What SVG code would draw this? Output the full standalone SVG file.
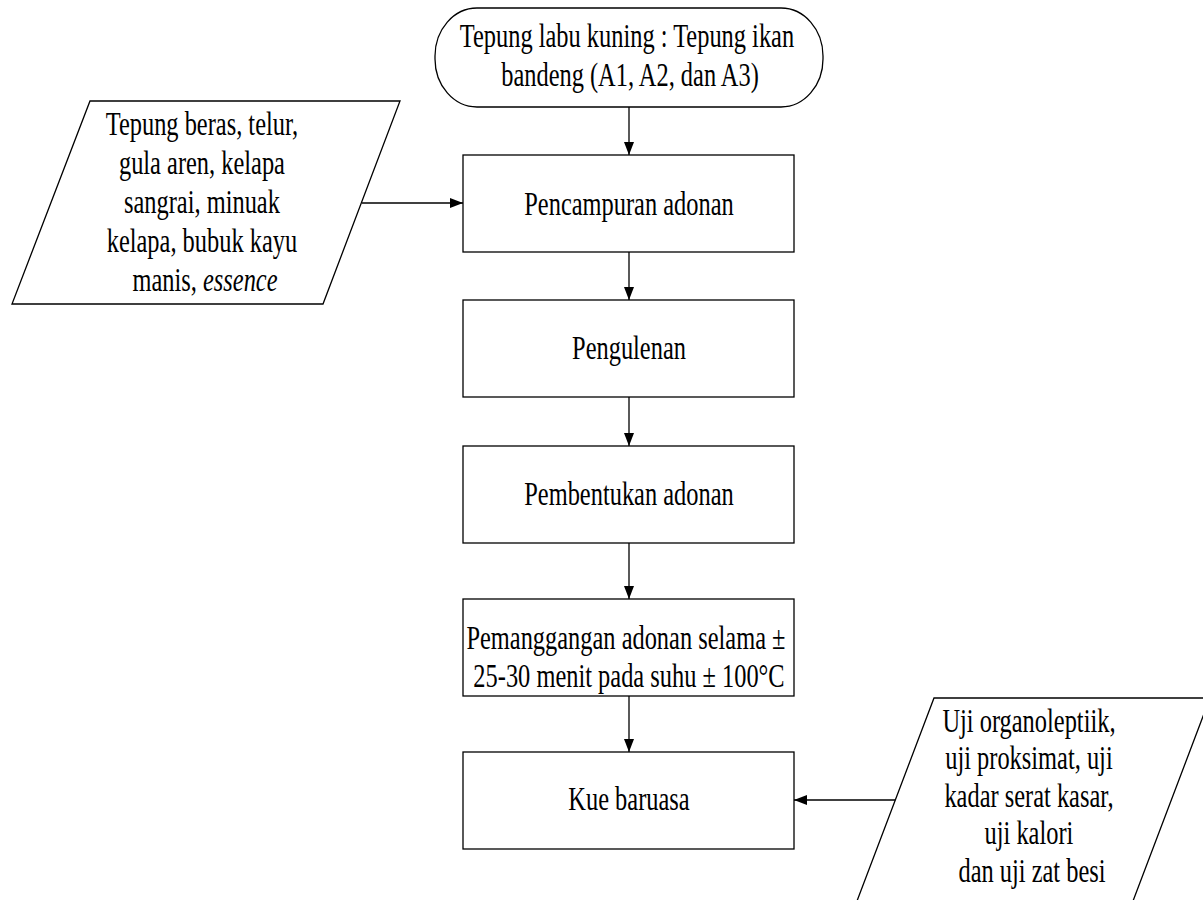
<svg xmlns="http://www.w3.org/2000/svg" width="1203" height="900" viewBox="0 0 1203 900">
  <style>
    .shape { fill: #ffffff; stroke: #000000; stroke-width: 1.3; }
    .conn { fill: none; stroke: #000000; stroke-width: 1.3; }
    .t { font-family: "Liberation Serif", "Times New Roman", serif; font-size: 33px; fill: #000000; text-anchor: middle; }
  </style>
  <defs>
    <marker id="arrow" viewBox="0 0 13 10" refX="13" refY="5" markerWidth="13" markerHeight="10" markerUnits="userSpaceOnUse" orient="auto">
      <path d="M0,0 L13,5 L0,10 Z" fill="#000000"/>
    </marker>
  </defs>
  <rect width="1203" height="900" fill="#ffffff"/>

  <g id="start">
    <rect class="shape" x="435" y="8" width="388" height="99" rx="42" ry="48"/>
    <text class="t" transform="translate(630 0) scale(0.74 1)">
      <tspan x="0" y="47">Tepung labu kuning : Tepung ikan</tspan>
      <tspan x="0" y="86">bandeng (A1, A2, dan A3)</tspan>
    </text>
  </g>

  <g id="input-bahan">
    <polygon class="shape" points="90,101 400,101 323,304 12,304"/>
    <text class="t" transform="translate(205 0) scale(0.74 1)">
      <tspan x="0" y="135">Tepung beras, telur,</tspan>
      <tspan x="0" y="174">gula aren, kelapa</tspan>
      <tspan x="0" y="213">sangrai, minuak</tspan>
      <tspan x="0" y="252">kelapa, bubuk kayu</tspan>
      <tspan x="0" y="291">manis, <tspan font-style="italic">essence</tspan></tspan>
    </text>
  </g>

  <g id="pencampuran">
    <rect class="shape" x="463" y="155" width="331" height="97"/>
    <text class="t" transform="translate(629 0) scale(0.74 1)"><tspan x="0" y="215">Pencampuran adonan</tspan></text>
  </g>

  <g id="pengulenan">
    <rect class="shape" x="463" y="300" width="331" height="97"/>
    <text class="t" transform="translate(629 0) scale(0.74 1)"><tspan x="0" y="359">Pengulenan</tspan></text>
  </g>

  <g id="pembentukan">
    <rect class="shape" x="463" y="446" width="331" height="97"/>
    <text class="t" transform="translate(629 0) scale(0.74 1)"><tspan x="0" y="505">Pembentukan adonan</tspan></text>
  </g>

  <g id="pemanggangan">
    <rect class="shape" x="463" y="599" width="331" height="97"/>
    <text class="t" transform="translate(629 0) scale(0.74 1)">
      <tspan x="0" y="649">Pemanggangan adonan selama ±</tspan>
      <tspan x="0" y="687">25-30 menit pada suhu ± 100°C</tspan>
    </text>
  </g>

  <g id="kue-baruasa">
    <rect class="shape" x="463" y="752" width="331" height="97"/>
    <text class="t" transform="translate(629 0) scale(0.74 1)"><tspan x="0" y="810">Kue baruasa</tspan></text>
  </g>

  <g id="uji">
    <polygon class="shape" points="934,698 1210,698 1133,901 857,901"/>
    <text class="t" transform="translate(1032 0) scale(0.74 1)">
      <tspan x="0" y="732">Uji organoleptiik,</tspan>
      <tspan x="0" y="769">uji proksimat, uji</tspan>
      <tspan x="0" y="807">kadar serat kasar,</tspan>
      <tspan x="0" y="844">uji kalori</tspan>
      <tspan x="0" y="882"> dan uji zat besi</tspan>
    </text>
  </g>

  <g id="connectors">
    <line class="conn" x1="629" y1="107" x2="629" y2="155" marker-end="url(#arrow)"/>
    <line class="conn" x1="629" y1="252" x2="629" y2="300" marker-end="url(#arrow)"/>
    <line class="conn" x1="629" y1="397" x2="629" y2="446" marker-end="url(#arrow)"/>
    <line class="conn" x1="629" y1="543" x2="629" y2="599" marker-end="url(#arrow)"/>
    <line class="conn" x1="629" y1="696" x2="629" y2="752" marker-end="url(#arrow)"/>
    <line class="conn" x1="362" y1="203" x2="463" y2="203" marker-end="url(#arrow)"/>
    <line class="conn" x1="895" y1="800" x2="794" y2="800" marker-end="url(#arrow)"/>
  </g>
</svg>
